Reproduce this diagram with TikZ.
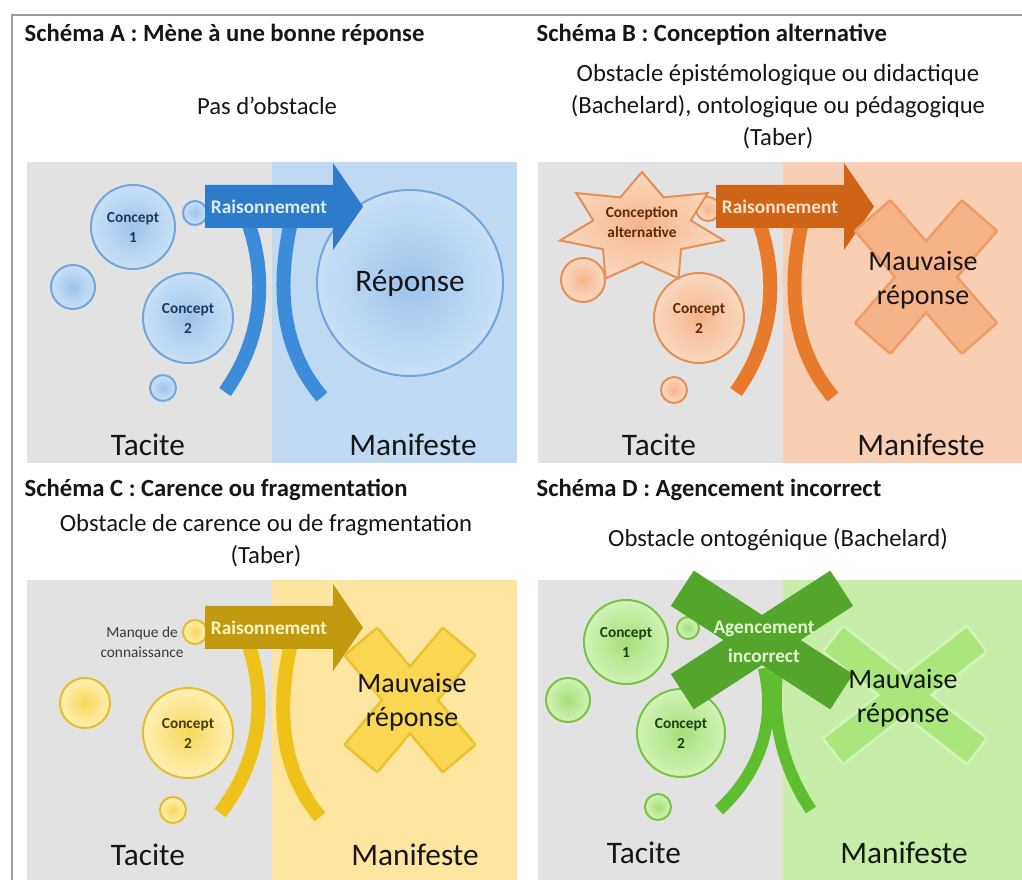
\documentclass[tikz,border=0pt]{standalone}
\usepackage{fontspec}
\setmainfont{Carlito}
\usetikzlibrary{shadings, calc}

\definecolor{ink}{HTML}{161616}
\definecolor{gr}{HTML}{E2E2E2}
\definecolor{fr}{HTML}{9A9A9A}
% blue
\definecolor{bBg}{HTML}{C0D9F2}
\definecolor{bL}{HTML}{C9E0F7}
\definecolor{bM}{HTML}{9CC4EC}
\definecolor{bE}{HTML}{6FA6DD}
\definecolor{bA}{HTML}{2E7BCB}
\definecolor{bC}{HTML}{3D8CD9}
\definecolor{bT}{HTML}{1C3A66}
\definecolor{bW}{HTML}{DDEEFC}
% orange
\definecolor{oBg}{HTML}{F9CFB3}
\definecolor{oL}{HTML}{FBD9C0}
\definecolor{oM}{HTML}{F5B489}
\definecolor{oE}{HTML}{E48F55}
\definecolor{oA}{HTML}{CF6416}
\definecolor{oC}{HTML}{E87A2C}
\definecolor{oT}{HTML}{5C2A08}
\definecolor{oW}{HTML}{FDE3D0}
\definecolor{oX}{HTML}{F6B387}
\definecolor{oY}{HTML}{EE9C63}
% yellow
\definecolor{yBg}{HTML}{FFE6A0}
\definecolor{yL}{HTML}{FFF0B5}
\definecolor{yM}{HTML}{FAD75A}
\definecolor{yE}{HTML}{E7BE2A}
\definecolor{yA}{HTML}{C29A10}
\definecolor{yC}{HTML}{EEC21A}
\definecolor{yT}{HTML}{4A3A00}
\definecolor{yW}{HTML}{FFF3C4}
\definecolor{yX}{HTML}{FAD653}
\definecolor{yY}{HTML}{EBC12E}
% green
\definecolor{gBg}{HTML}{C7EDA8}
\definecolor{gL}{HTML}{D2F3B6}
\definecolor{gM}{HTML}{A5DE78}
\definecolor{gE}{HTML}{75C445}
\definecolor{gA}{HTML}{53A52C}
\definecolor{gC}{HTML}{5EBE30}
\definecolor{gT}{HTML}{1E4010}
\definecolor{gW}{HTML}{E4F8CF}
\definecolor{gX}{HTML}{A9E67C}
\definecolor{gY}{HTML}{D4F5BA}

\begin{document}
\begin{tikzpicture}[x=0.75pt, y=-0.75pt,
    blob/.style={line width=1.5pt, draw=#1E, inner color=#1M, outer color=#1L},
    ball/.style={circle, inner sep=0pt, blob=#1},
    cpt/.style={font=\fontsize{11.5}{15}\selectfont\bfseries, align=center, text=#1T},
    band/.style={line width=10.5pt, draw=#1C},
    arr/.style={fill=#1A},
    rtext/.style={font=\fontsize{14.5}{17}\selectfont\bfseries, text=#1W},
    xedge/.style={draw=#1Y, line width=4pt, line join=round},
    xfill/.style={fill=#1X},
    ttl/.style={font=\fontsize{18.5}{22}\selectfont\bfseries, anchor=west, text=ink},
    sub/.style={font=\fontsize{18.5}{24}\selectfont, align=center, text=ink},
    side/.style={font=\fontsize{23.5}{26}\selectfont, text=ink},
    wrong/.style={font=\fontsize{21}{26}\selectfont, align=center, text=ink}]
    \useasboundingbox (0,0) rectangle (1022,880);
    % Frame
    \draw[fr, line width=1.5pt] (12,880) -- (12,15) -- (1022,15);

    % Schema A
    \node[ttl] (tA) at (20,35) {Schéma A : Mène à une bonne réponse};
    \node[sub] (sA) at (267,106) {Pas d’obstacle};
    \begin{scope}[shift={(27,162)}]
        \fill[gr] (0,0) rectangle (245,301);
        \fill[bBg] (245,0) rectangle (490,301);
        \node[ball=b, minimum size=33pt] (p1A) at (46,125) {};
        \node[ball=b, minimum size=19.5pt] (p2A) at (136,226) {};
        \node[ball=b, minimum size=18pt] (p3A) at (168,51) {};
        \node[ball=b, minimum size=63pt, cpt=b] (c1A) at (106,65) {Concept\\1};
        \node[ball=b, minimum size=67.5pt, cpt=b] (c2A) at (161,156) {Concept\\2};
        \draw[band=b] (221,60) .. controls (241,118) and (235,178) .. (198,230);
        \draw[band=b] (264,60) .. controls (249,128) and (255,188) .. (295,235);
        \node[ball=b, minimum size=139.5pt, side] (repA) at (383,121) {Réponse};
        \fill[arr=b] (178,23) -- (306,23) -- (306,1) -- (336,44.5) -- (306,88) -- (306,66) -- (178,66) -- cycle;
        \node[rtext=b] (raisA) at (242,44.5) {Raisonnement};
        \node[side] (tacA) at (121,283) {Tacite};
        \node[side] (manA) at (386,283) {Manifeste};
    \end{scope}

    % Schema B
    \node[ttl] (tB) at (532,35) {Schéma B : Conception alternative};
    \node[sub] (sB) at (778,107) {Obstacle épistémologique ou didactique\\(Bachelard), ontologique ou pédagogique\\(Taber)};
    \begin{scope}[shift={(538,162)}]
        \fill[gr] (0,0) rectangle (245,301);
        \fill[oBg] (245,0) rectangle (484,301);
        \node[ball=o, minimum size=33pt] (p1B) at (45,118) {};
        \node[ball=o, minimum size=19.5pt] (p2B) at (136,228) {};
        \node[ball=o, minimum size=18pt] (p3B) at (170,47) {};
        \node[ball=o, minimum size=67.5pt, cpt=o] (c2B) at (161,156) {Concept\\2};
        \path[blob=o] plot[samples at={0,...,13}, variable=\k]
            ({104+ifthenelse(isodd(\k),50,84)*cos(90+\k*360/14)}, {66-ifthenelse(isodd(\k),34,56)*sin(90+\k*360/14)}) -- cycle;
        \node[cpt=o] (altB) at (104,60) {Conception\\alternative};
        \draw[band=o] (221,60) .. controls (241,118) and (235,178) .. (198,230);
        \draw[band=o] (264,60) .. controls (249,128) and (255,188) .. (295,235);
        \fill[arr=o] (178,23) -- (306,23) -- (306,1) -- (336,44.5) -- (306,88) -- (306,66) -- (178,66) -- cycle;
        \node[rtext=o] (raisB) at (242,44.5) {Raisonnement};
        \begin{scope}[shift={(388,115)}]
            \foreach \a in {49,-49} \draw[xedge=o, rotate=\a] (-80,-22) rectangle (80,22);
            \foreach \a in {49,-49} \fill[xfill=o, rotate=\a] (-80,-22) rectangle (80,22);
        \end{scope}
        \node[wrong] (mauvB) at (385,118) {Mauvaise\\réponse};
        \node[side] (tacB) at (121,283) {Tacite};
        \node[side] (manB) at (383,283) {Manifeste};
    \end{scope}

    % Schema C
    \node[ttl] (tC) at (20,490) {Schéma C : Carence ou fragmentation};
    \node[sub] (sC) at (266,541) {Obstacle de carence ou de fragmentation\\(Taber)};
    \begin{scope}[shift={(27,580)}]
        \fill[gr] (0,0) rectangle (245,300);
        \fill[yBg] (245,0) rectangle (490,300);
        \node[ball=y, minimum size=37.5pt] (p1C) at (58,123) {};
        \node[ball=y, minimum size=19.5pt] (p2C) at (146,230) {};
        \node[ball=y, minimum size=18pt] (p3C) at (168,52) {};
        \node[ball=y, minimum size=67.5pt, cpt=y] (c2C) at (161,153) {Concept\\2};
        \node[font=\fontsize{11.5}{15}\selectfont, align=center, text=ink!85] (manqC) at (115,62) {Manque de\\connaissance};
        \draw[band=y] (221,63) .. controls (241,121) and (233,181) .. (193,233);
        \draw[band=y] (264,63) .. controls (249,131) and (254,191) .. (293,237);
        \fill[arr=y] (178,26) -- (306,26) -- (306,4) -- (336,47.5) -- (306,91) -- (306,69) -- (178,69) -- cycle;
        \node[rtext=y] (raisC) at (242,47.5) {Raisonnement};
        \begin{scope}[shift={(383,120)}]
            \foreach \a in {50,-50} \draw[xedge=y, rotate=\a] (-75,-20) rectangle (75,20);
            \foreach \a in {50,-50} \fill[xfill=y, rotate=\a] (-75,-20) rectangle (75,20);
        \end{scope}
        \node[wrong] (mauvC) at (385,122) {Mauvaise\\réponse};
        \node[side] (tacC) at (121,275) {Tacite};
        \node[side] (manC) at (388,275) {Manifeste};
    \end{scope}

    % Schema D
    \node[ttl] (tD) at (532,490) {Schéma D : Agencement incorrect};
    \node[sub] (sD) at (778,540) {Obstacle ontogénique (Bachelard)};
    \begin{scope}[shift={(538,580)}]
        \fill[gr] (0,0) rectangle (245,300);
        \fill[gBg] (245,0) rectangle (484,300);
        \node[ball=g, minimum size=33pt] (p1D) at (30,120) {};
        \node[ball=g, minimum size=19.5pt] (p2D) at (120,227) {};
        \node[ball=g, minimum size=16.5pt] (p3D) at (150,48) {};
        \node[ball=g, minimum size=63pt, cpt=g] (c1D) at (88,62) {Concept\\1};
        \node[ball=g, minimum size=66pt, cpt=g] (c2D) at (143,153) {Concept\\2};
        \draw[band=g, line width=9pt] (226,88) .. controls (238,140) and (224,190) .. (181,230);
        \draw[band=g, line width=9pt] (240,88) .. controls (232,140) and (246,190) .. (273,230);
        \begin{scope}[shift={(367,115)}]
            \foreach \a in {38,-38} \draw[xedge=g, rotate=\a] (-90,-15) rectangle (90,15);
            \foreach \a in {38,-38} \fill[xfill=g, rotate=\a] (-90,-15) rectangle (90,15);
        \end{scope}
        \begin{scope}[shift={(224,60)}]
            \foreach \a in {33,-33} \fill[arr=g, rotate=\a] (-95,-21) rectangle (95,21);
        \end{scope}
        \node[rtext=g, align=center, font=\fontsize{14.5}{22}\selectfont\bfseries] (agD) at (226,62) {Agencement\\incorrect};
        \node[wrong] (mauvD) at (365,118) {Mauvaise\\réponse};
        \node[side] (tacD) at (106,273) {Tacite};
        \node[side] (manD) at (366,273) {Manifeste};
    \end{scope}
\end{tikzpicture}
\end{document}
